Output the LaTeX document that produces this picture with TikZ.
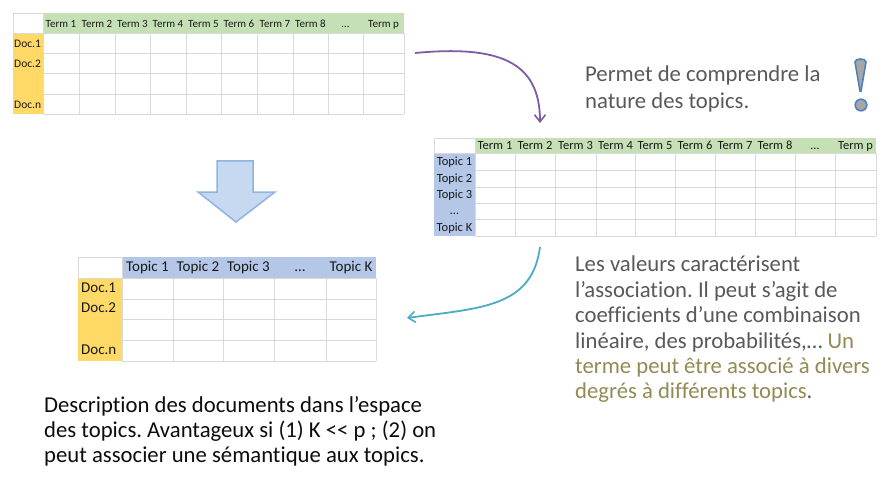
\documentclass[tikz,border=0pt]{standalone}
\usepackage{fontspec}
\setmainfont{Carlito}[Ligatures={TeXOff,CommonOff}]
\usetikzlibrary{arrows.meta}
\definecolor{hgreen}{HTML}{C5E0B4}
\definecolor{hyellow}{HTML}{FFD966}
\definecolor{hblue}{HTML}{B4C7E7}
\definecolor{gridc}{HTML}{D9D9D9}
\definecolor{txtgray}{HTML}{595959}
\definecolor{olive}{HTML}{948A54}
\definecolor{purplearr}{HTML}{7E5CA6}
\definecolor{tealarr}{HTML}{4BACC6}
\definecolor{blkfill}{HTML}{C6D9F1}
\definecolor{blkline}{HTML}{8EB4E3}
\definecolor{exfill}{HTML}{A6A6A6}
\definecolor{exline}{HTML}{4F81BD}
\tikzset{
  gridline/.style={draw=gridc, line width=0.9pt},
  cellbase/.style={inner sep=0pt, text=black!90, text height=0.62em, text depth=0pt},
  cellA/.style={cellbase, font=\fontsize{11}{12}\selectfont},
  cellAr/.style={cellbase, font=\fontsize{11.5}{12}\selectfont},
  cellB/.style={cellbase, font=\fontsize{12.5}{14}\selectfont},
  cellC/.style={cellbase, font=\fontsize{15}{17}\selectfont},
  para/.style={inner sep=0pt, anchor=north west, align=left, font=\fontsize{22.7}{25.4}\selectfont},
  curvearr/.style={line width=1.8pt, -{Straight Barb[length=7pt,width=11pt,line width=1.6pt]}},
}
\frenchspacing
\begin{document}
\begin{tikzpicture}[x=1pt,y=-1pt]
\useasboundingbox (0,0) rectangle (885,481);
\fill[white] (0,0) rectangle (885,481);

% ---------- Table 1 : documents x terms ----------
\fill[hgreen] (43,13) rectangle (404,33);
\fill[hyellow] (13,33) rectangle (43,114);
\draw[gridline] (13,13) rectangle (43,33);
\foreach \x in {43,79,115,150,186,221,257,293,328,363,404}
  \draw[gridline] (\x,33) -- (\x,114);
\foreach \y in {33,53,73,94,114}
  \draw[gridline] (43,\y) -- (404,\y);
\foreach \a/\b/\t [count=\i] in {43/79/Term 1,79/115/Term 2,115/150/Term 3,150/186/Term 4,186/221/Term 5,221/257/Term 6,257/293/Term 7,293/328/Term 8,328/363/{…},363/404/Term p}
  \node[cellA] (ta\i) at ({(\a+\b)/2},24) {\t};
\foreach \y/\t [count=\i] in {44/Doc.1,64/Doc.2,105/Doc.n}
  \node[cellAr, anchor=west] (da\i) at (14,\y) {\t};
\coordinate (t1) at (415,53);

% ---------- Table 2 : topics x terms ----------
\fill[hgreen] (475,138) rectangle (876,153);
\fill[hblue] (434,153) rectangle (475,236);
\draw[gridline] (434,138) rectangle (475,153);
\foreach \x in {475,515,555,596,635,675,715,755,795,835,876}
  \draw[gridline] (\x,153) -- (\x,236);
\foreach \y in {153,170,187,203,219,236}
  \draw[gridline] (475,\y) -- (876,\y);
\foreach \a/\b/\t [count=\i] in {475/515/Term 1,515/555/Term 2,555/596/Term 3,596/635/Term 4,635/675/Term 5,675/715/Term 6,715/755/Term 7,755/795/Term 8,795/835/{…},835/876/Term p}
  \node[cellB] (tb\i) at ({(\a+\b)/2},146) {\t};
\foreach \y/\t [count=\i] in {162/Topic 1,179/Topic 2,195.5/Topic 3,211.5/{…},228/Topic K}
  \node[cellB] (rb\i) at (454.5,\y) {\t};
\coordinate (t2top) at (540,123);
\coordinate (t2bot) at (540,247);

% ---------- Table 3 : documents x topics ----------
\fill[hblue] (122,257) rectangle (376,278);
\fill[hyellow] (78,278) rectangle (122,361);
\draw[gridline] (78,257) rectangle (122,278);
\foreach \x in {122,173,223,274,326,376}
  \draw[gridline] (\x,278) -- (\x,361);
\foreach \y in {278,299,319,340,361}
  \draw[gridline] (122,\y) -- (376,\y);
\foreach \a/\b/\t [count=\i] in {122/173/Topic 1,173/223/Topic 2,223/274/Topic 3,274/326/{…},326/376/Topic K}
  \node[cellC] (tc\i) at ({(\a+\b)/2},268) {\t};
\foreach \y/\t [count=\i] in {289/Doc.1,309.5/Doc.2,351/Doc.n}
  \node[cellC, anchor=west] (dc\i) at (81,\y) {\t};
\coordinate (t3) at (407,318);

% ---------- curved arrows ----------
\draw[curvearr, purplearr] (t1) .. controls (500,45) and (540,62) .. (t2top);
\draw[curvearr, tealarr] (t2bot) .. controls (532,308) and (480,308) .. (t3);

% ---------- block arrow ----------
\draw[draw=blkline, fill=blkfill, line width=1.5pt, line join=miter]
  (217,161) -- (253,161) -- (253,192) -- (275,192) -- (236,222) -- (198,192) -- (217,192) -- cycle;

% ---------- exclamation mark ----------
\draw[draw=exline, fill=exfill, line width=1.6pt]
  (855,62) .. controls (855,58) and (866,58) .. (866,62) -- (861,91) -- (860,91) -- cycle;
\draw[draw=exline, fill=exfill, line width=1.6pt] (861,105) circle (5.8);

% ---------- texts ----------
\node[para, text=txtgray] (permet) at (585,66) {Permet de comprendre la\\[1.3pt]nature des topics.};
\node[para, text=txtgray] (valeurs) at (575,256) {Les valeurs caractérisent\\l’association. Il peut s’agit de\\coefficients d’une combinaison\\linéaire, des probabilités,… \textcolor{olive}{Un}\\\textcolor{olive}{terme peut être associé à divers}\\\textcolor{olive}{degrés à différents topics}.};
\node[para, text=black!95] (descr) at (44,396) {Description des documents dans l’espace\\[-0.4pt]des topics. Avantageux si (1) K << p ; (2) on\\[-0.4pt]peut associer une sémantique aux topics.};
\end{tikzpicture}
\end{document}
